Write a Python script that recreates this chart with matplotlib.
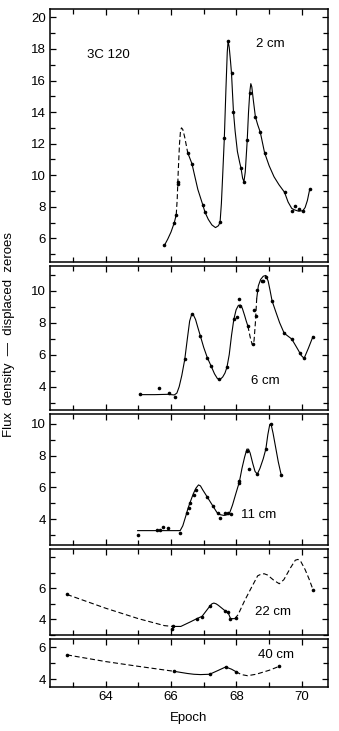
import matplotlib
matplotlib.use('Agg')
import matplotlib.pyplot as plt
from matplotlib.ticker import MultipleLocator, FixedLocator

plt.rcParams['font.family'] = ['Liberation Sans', 'DejaVu Sans']

# ---- 2 cm ----
obs_2_x = [65.80, 66.10, 66.16, 66.20, 66.20, 66.51, 66.64, 66.97, 67.04, 67.50,
           67.63, 67.74, 67.85, 67.91, 68.14, 68.23, 68.33, 68.41, 68.58, 68.73,
           68.86, 69.47, 69.69, 69.78, 69.91, 70.03, 70.24]
obs_2_y = [5.56, 6.99, 7.5, 9.46, 9.6, 11.43, 10.73, 8.13, 7.65, 7.02,
           12.34, 18.5, 16.45, 14.0, 10.45, 9.6, 12.2, 15.19, 13.7, 12.72,
           11.43, 8.92, 7.72, 8.05, 7.86, 7.75, 9.1]
# hand-drawn curve
fit_2_x = [65.80, 65.90, 66.00, 66.10, 66.16, 66.19, 66.22, 66.26, 66.29, 66.32,
           66.36, 66.42, 66.51, 66.64, 66.72, 66.82, 66.97, 67.04, 67.14, 67.25,
           67.36, 67.45, 67.50, 67.54, 67.58, 67.63, 67.68, 67.72, 67.745, 67.78,
           67.82, 67.85, 67.88, 67.91, 67.96, 68.03, 68.10, 68.14, 68.19, 68.23,
           68.27, 68.30, 68.33, 68.37, 68.41, 68.44, 68.47, 68.52, 68.58, 68.65,
           68.73, 68.86, 69.00, 69.15, 69.30, 69.47, 69.58, 69.69, 69.78, 69.90,
           70.03, 70.10, 70.17, 70.24]
fit_2_y = [5.56, 5.95, 6.4, 6.99, 7.5, 8.5, 10.2, 12.0, 12.8, 13.0,
           12.9, 12.4, 11.43, 10.73, 10.0, 9.1, 8.13, 7.65, 7.2, 6.85,
           6.68, 6.8, 7.02, 8.2, 10.0, 12.34, 15.5, 17.8, 18.5, 18.1,
           17.2, 16.45, 15.2, 14.0, 12.8, 11.5, 10.8, 10.45, 9.8, 9.6,
           10.2, 11.2, 12.2, 14.0, 15.3, 15.8, 15.6, 14.7, 13.7, 13.2,
           12.72, 11.43, 10.6, 9.9, 9.4, 8.92, 8.3, 7.9, 7.8, 7.72,
           7.75, 7.95, 8.4, 9.1]
dash_2 = [(66.16, 66.52)]

# ---- 6 cm ----
obs_6_x = [65.06, 65.62, 65.93, 66.11, 66.42, 66.65, 66.90, 67.11, 67.23, 67.48,
           67.71, 67.92, 68.03, 68.08, 68.12, 68.35, 68.51, 68.53, 68.60, 68.62,
           68.77, 68.82, 68.90, 69.09, 69.46, 69.69, 69.95, 70.07, 70.34]
obs_6_y = [3.54, 3.92, 3.63, 3.38, 5.71, 8.56, 7.15, 5.81, 5.27, 4.48,
           5.21, 8.21, 8.38, 9.46, 9.06, 7.79, 6.67, 8.77, 8.4, 10.06,
           10.63, 10.63, 10.88, 9.36, 7.34, 6.98, 6.09, 5.77, 7.13]
fit_6_x = [65.06, 65.50, 65.90, 66.10, 66.18, 66.25, 66.33, 66.42, 66.50, 66.57,
           66.63, 66.68, 66.75, 66.82, 66.90, 67.00, 67.11, 67.23, 67.33, 67.42,
           67.50, 67.58, 67.65, 67.71, 67.78, 67.85, 67.92, 67.99, 68.06, 68.12,
           68.18, 68.25, 68.30, 68.35, 68.42, 68.48, 68.51, 68.54, 68.58, 68.62,
           68.67, 68.74, 68.82, 68.90, 68.97, 69.03, 69.09, 69.20, 69.32, 69.46,
           69.58, 69.69, 69.80, 69.90, 69.98, 70.07, 70.20, 70.34]
fit_6_y = [3.5, 3.5, 3.52, 3.48, 3.6, 4.0, 4.7, 5.7, 7.0, 8.1,
           8.5, 8.5, 8.2, 7.7, 7.15, 6.45, 5.81, 5.27, 4.8, 4.5,
           4.45, 4.6, 4.85, 5.21, 6.0, 7.2, 8.2, 8.8, 9.08, 9.1,
           8.9, 8.45, 8.1, 7.79, 7.1, 6.65, 6.6, 6.9, 8.0, 9.5,
           10.3, 10.7, 10.9, 10.95, 10.6, 10.0, 9.36, 8.7, 8.0, 7.34,
           7.15, 6.98, 6.6, 6.25, 5.95, 5.77, 6.4, 7.13]
dash_6 = [(68.33, 68.62)]

# ---- 11 cm ----
obs_11_x = [64.98, 65.57, 65.67, 65.77, 65.90, 66.28, 66.49, 66.54, 66.59, 66.69,
            66.76, 67.10, 67.28, 67.44, 67.49, 67.66, 67.73, 67.83, 68.09, 68.09,
            68.32, 68.38, 68.64, 68.90, 69.05, 69.37]
obs_11_y = [3.03, 3.36, 3.32, 3.53, 3.49, 3.18, 4.39, 4.72, 5.03, 5.53,
            5.84, 5.43, 4.84, 4.39, 4.09, 4.39, 4.39, 4.34, 6.26, 6.43,
            8.3, 7.16, 6.84, 8.41, 9.97, 6.78]
fit_11_x = [64.98, 65.50, 66.00, 66.28, 66.36, 66.45, 66.52, 66.59, 66.68, 66.76,
            66.84, 66.90, 66.97, 67.10, 67.28, 67.40, 67.50, 67.62, 67.73, 67.80,
            67.88, 67.98, 68.09, 68.17, 68.25, 68.32, 68.37, 68.42, 68.50, 68.57,
            68.64, 68.72, 68.82, 68.90, 68.96, 69.02, 69.06, 69.12, 69.20, 69.28,
            69.37]
fit_11_y = [3.3, 3.3, 3.3, 3.3, 3.6, 4.2, 4.7, 5.1, 5.6, 5.95,
            6.16, 6.1, 5.85, 5.43, 4.84, 4.45, 4.3, 4.25, 4.3, 4.45,
            4.9, 5.6, 6.35, 7.2, 7.9, 8.4, 8.4, 8.15, 7.5, 7.0,
            6.84, 7.2, 7.8, 8.41, 9.3, 9.95, 9.95, 9.4, 8.5, 7.6,
            6.78]
dash_11 = []

# ---- 22 cm ----
obs_22_x = [62.82, 66.06, 66.02, 66.78, 66.95, 67.19, 67.65, 67.75, 67.80, 67.98, 70.34]
obs_22_y = [5.60, 3.60, 3.40, 4.04, 4.15, 4.86, 4.56, 4.47, 4.04, 4.09, 5.92]
fit_22_x = [62.82, 64.00, 65.00, 65.80, 66.06, 66.30, 66.60, 66.78, 66.95, 67.19,
            67.25, 67.31, 67.38, 67.45, 67.65, 67.75, 67.82, 67.95, 68.05, 68.25,
            68.44, 68.65, 68.75, 68.85, 68.95, 69.15, 69.31, 69.45, 69.65, 69.80,
            69.88, 69.96, 70.10, 70.22, 70.34]
fit_22_y = [5.60, 4.72, 4.05, 3.6, 3.55, 3.55, 3.85, 4.04, 4.2, 4.86,
            5.0, 5.05, 5.0, 4.9, 4.56, 4.42, 4.05, 4.05, 4.3, 5.2,
            5.97, 6.8, 6.9, 6.93, 6.85, 6.5, 6.29, 6.55, 7.3, 7.8,
            7.85, 7.75, 7.2, 6.6, 5.92]
dash_22 = [(62.8, 66.06), (67.95, 70.4)]

# ---- 40 cm ----
obs_40_x = [62.82, 66.08, 67.18, 67.67, 67.98, 69.31]
obs_40_y = [5.52, 4.49, 4.30, 4.76, 4.47, 4.80]
fit_40_x = [62.82, 64.00, 65.00, 66.08, 66.50, 66.70, 66.90, 67.18, 67.45, 67.67,
            67.85, 67.98, 68.15, 68.34, 68.60, 69.00, 69.31]
fit_40_y = [5.52, 5.1, 4.8, 4.49, 4.35, 4.3, 4.28, 4.3, 4.55, 4.76,
            4.62, 4.47, 4.28, 4.21, 4.3, 4.55, 4.80]
dash_40 = [(62.8, 66.08), (67.98, 69.4)]

W, H = 339, 731
fig = plt.figure(figsize=(W / 100, H / 100), dpi=100)


def in_dash(x, ranges):
    return any(a <= x <= b for a, b in ranges)


def draw_fit(ax, xs, ys, ranges):
    # split the hand-drawn curve into solid / dashed runs
    runs = []
    for i in range(len(xs) - 1):
        dashed = in_dash(0.5 * (xs[i] + xs[i + 1]), ranges)
        if runs and runs[-1][0] == dashed:
            runs[-1][1].append(i + 1)
        else:
            runs.append([dashed, [i, i + 1]])
    for dashed, idx in runs:
        ax.plot([xs[j] for j in idx], [ys[j] for j in idx], color='black', lw=0.8,
                linestyle=(0, (4.5, 2.5)) if dashed else '-')


panels = [
    # (top px, bottom px, ylim, labelled ticks, obs, fit, dashes, label, label pos)
    (9, 261.7, (4.52, 20.53), [6, 8, 10, 12, 14, 16, 18, 20],
     obs_2_x, obs_2_y, fit_2_x, fit_2_y, dash_2, '2 cm', (68.6, 18.3)),
    (266, 410, (2.54, 11.54), [4, 6, 8, 10],
     obs_6_x, obs_6_y, fit_6_x, fit_6_y, dash_6, '6 cm', (68.44, 4.36)),
    (414.3, 545, (2.4, 10.58), [4, 6, 8, 10],
     obs_11_x, obs_11_y, fit_11_x, fit_11_y, dash_11, '11 cm', (68.15, 4.28)),
    (549.3, 635, (3.0, 8.5), [4, 6],
     obs_22_x, obs_22_y, fit_22_x, fit_22_y, dash_22, '22 cm', (68.56, 4.47)),
    (639, 687.3, (3.48, 6.52), [4, 6],
     obs_40_x, obs_40_y, fit_40_x, fit_40_y, dash_40, '40 cm', (68.65, 5.52)),
]

left, right = 50, 328
axes = []
for (top, bot, ylim, yt, ox, oy, fx, fy, dr, lab, lpos) in panels:
    ax = fig.add_axes([left / W, (H - bot) / H, (right - left) / W, (bot - top) / H])
    draw_fit(ax, fx, fy, dr)
    ax.plot(ox, oy, 'o', color='black', ms=2.6, mec='none')
    ax.set_xlim(62.3, 70.8)
    ax.set_ylim(*ylim)
    ax.xaxis.set_major_locator(MultipleLocator(2))
    ax.xaxis.set_minor_locator(MultipleLocator(1))
    ax.yaxis.set_major_locator(FixedLocator(yt))
    ax.yaxis.set_minor_locator(MultipleLocator(1))
    ax.tick_params(which='both', direction='in', top=True, right=True,
                   labelsize=9.5, width=0.9, pad=3)
    ax.tick_params(which='major', length=4.5)
    ax.tick_params(which='minor', length=3.5)
    for s in ax.spines.values():
        s.set_linewidth(1.1)
    ax.text(lpos[0], lpos[1], lab, fontsize=9.5, ha='left', va='center')
    axes.append(ax)

for ax in axes[:-1]:
    ax.tick_params(labelbottom=False)

axes[0].text(64.07, 17.6, '3C 120', fontsize=9.5, ha='center', va='center')
axes[-1].set_xlabel('Epoch', fontsize=9.5, labelpad=6)
fig.text(9 / W, 1 - 335 / H, 'Flux  density  \u2014  displaced  zeroes', rotation=90,
         fontsize=9.5, ha='center', va='center')

fig.savefig('out.png', dpi=100)
